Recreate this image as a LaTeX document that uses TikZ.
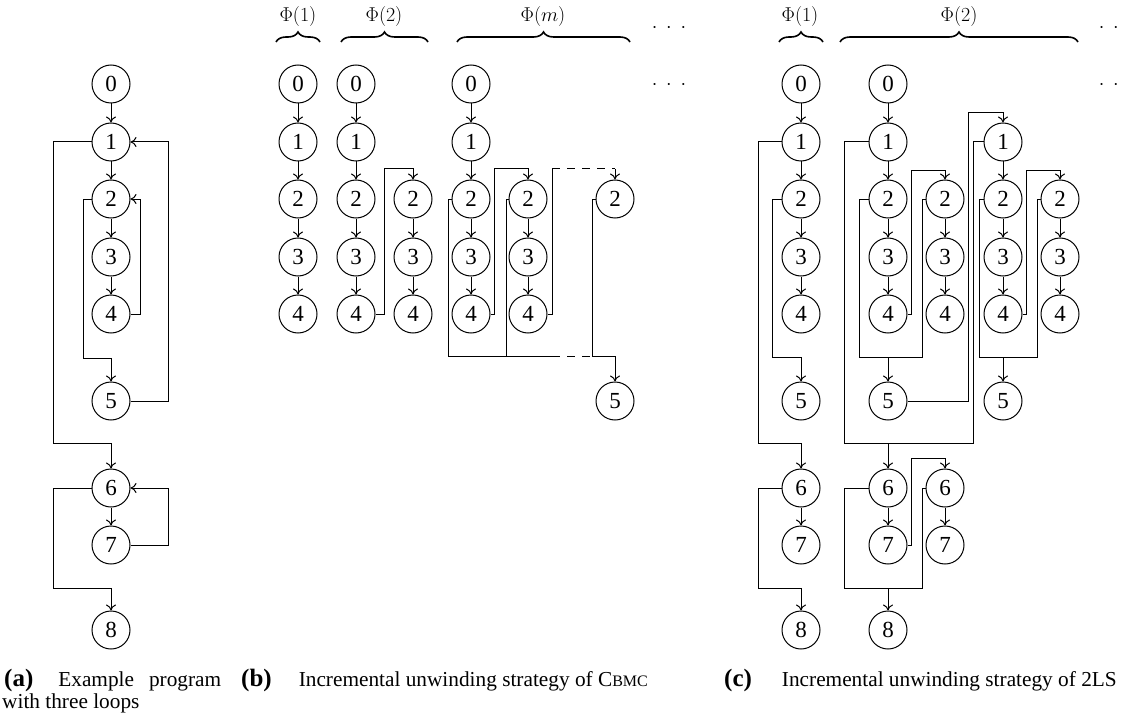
\RequirePackage{fix-cm}
\documentclass[tikz,border=0pt]{standalone}
\usepackage{fontspec}
\newfontfamily\tms{Liberation Serif}
\usetikzlibrary{arrows.meta,decorations.pathreplacing}
\begin{document}
\begin{tikzpicture}[x=1pt,y=-1pt,
  st/.style={circle,draw,line width=1pt,minimum size=38pt,inner sep=0pt,font=\tms\fontsize{23}{23}\selectfont},
  ed/.style={line width=1pt,-{To[length=6pt,width=10pt]}},
  ln/.style={line width=1pt},
  dsh/.style={line width=1pt,dash pattern=on 8pt off 7pt,dash phase=8pt},
  brc/.style={decorate,decoration={brace,amplitude=10pt},line width=1.6pt},
  phitxt/.style={font=\fontsize{20}{20}\selectfont,inner sep=0pt},
  dotsty/.style={font=\fontsize{20}{20}\selectfont,anchor=base,inner sep=0pt},
  captxt/.style={font=\tms\fontsize{21.3}{25}\selectfont,anchor=base west,inner sep=0pt}]
\useasboundingbox (0,0) rectangle (1126,714);
\clip (0,0) rectangle (1126,714);
\newcommand\lbl[1]{{\fontsize{25}{25}\selectfont\bfseries #1}}
% ---------- (a)
\foreach \i/\yy in {0/84,1/142,2/199,3/257,4/314,5/401,6/488,7/545,8/630}
  \node[st] (a\i) at (111,\yy) {\i};
\foreach \i/\j in {0/1,1/2,2/3,3/4,6/7} \draw[ed] (a\i) -- (a\j);
\draw[ed] (a1.west) -| (53,443) -| (a6);
\draw[ed] (a5.east) -| (168,142) -- (a1.east);
\draw[ed] (a2.west) -| (83,358) -| (a5);
\draw[ed] (a4.east) -| (140,199) -- (a2.east);
\draw[ed] (a6.west) -| (53,588) -| (a8);
\draw[ed] (a7.east) -| (168,488) -- (a6.east);
% ---------- (b)
\foreach \i/\yy in {0/84,1/142,2/199,3/257,4/314} {
  \node[st] (p\i) at (298,\yy) {\i};
  \node[st] (q\i) at (356,\yy) {\i};
  \node[st] (m\i) at (471,\yy) {\i};}
\foreach \i/\yy in {2/199,3/257,4/314} {
  \node[st] (qb\i) at (413,\yy) {\i};
  \node[st] (mb\i) at (528,\yy) {\i};}
\node[st] (mc2) at (615,199) {2};
\node[st] (m5) at (615,401) {5};
\foreach \i/\j in {0/1,1/2,2/3,3/4} {
  \draw[ed] (p\i) -- (p\j);
  \draw[ed] (q\i) -- (q\j);
  \draw[ed] (m\i) -- (m\j);}
\foreach \i/\j in {2/3,3/4} {
  \draw[ed] (qb\i) -- (qb\j);
  \draw[ed] (mb\i) -- (mb\j);}
\draw[ed] (q4.east) -| (384,169) -| (qb2);
\draw[ed] (m4.east) -| (494,169) -| (mb2);
\draw[ln] (mb4.east) -| (552,169) -- (560,169);
\draw[dsh] (560,169) -- (615,169);
\draw[ed] (615,169) -- (mc2);
\draw[ln] (m2.west) -| (448,356) -- (560,356);
\draw[ln] (mb2.west) -| (506,356);
\draw[dsh] (560,356) -- (592,356);
\draw[ln] (mc2.west) -| (592,356);
\draw[ed] (592,356) -| (m5);
% braces (b)
\draw[brc] (276,42) -- (320,42);
\draw[brc] (341,42) -- (428,42);
\draw[brc] (457,42) -- (630,42);
\node[phitxt] (f1) at (298,17) {$\Phi(1)$};
\node[phitxt] (f2) at (384,17) {$\Phi(2)$};
\node[phitxt] (fm) at (543,17) {$\Phi(m)$};
\node[dotsty] (d1) at (669,33) {$\cdotp\;\cdotp\;\cdotp$};
\node[dotsty] (d2) at (669,90) {$\cdotp\;\cdotp\;\cdotp$};
% ---------- (c)
\foreach \i/\yy in {0/84,1/142,2/199,3/257,4/314,5/401,6/488,7/545,8/630} {
  \node[st] (u\i) at (801,\yy) {\i};
  \node[st] (v\i) at (888,\yy) {\i};}
\foreach \i/\yy in {2/199,3/257,4/314,6/488,7/545}
  \node[st] (w\i) at (945,\yy) {\i};
\foreach \i/\yy in {1/142,2/199,3/257,4/314,5/401}
  \node[st] (k\i) at (1003,\yy) {\i};
\foreach \i/\yy in {2/199,3/257,4/314}
  \node[st] (z\i) at (1060,\yy) {\i};
\foreach \i/\j in {0/1,1/2,2/3,3/4,6/7} {
  \draw[ed] (u\i) -- (u\j);
  \draw[ed] (v\i) -- (v\j);}
\foreach \i/\j in {2/3,3/4} {
  \draw[ed] (w\i) -- (w\j);
  \draw[ed] (z\i) -- (z\j);}
\draw[ed] (w6) -- (w7);
\foreach \i/\j in {1/2,2/3,3/4} \draw[ed] (k\i) -- (k\j);
\draw[ed] (u1.west) -| (758,443) -| (u6);
\draw[ed] (u2.west) -| (772,357) -| (u5);
\draw[ed] (u6.west) -| (758,588) -| (u8);
\draw[ed] (v1.west) -| (844,443) -| (v6);
\draw[ln] (k1.west) -| (973,443) -- (888,443);
\draw[ed] (v2.west) -| (859,357) -| (v5);
\draw[ln] (w2.west) -| (922,357) -- (888,357);
\draw[ed] (v4.east) -| (911,171) -| (w2);
\draw[ed] (v5.east) -| (968,113) -| (k1);
\draw[ed] (k2.west) -| (979,357) -| (k5);
\draw[ln] (z2.west) -| (1037,357) -- (1003,357);
\draw[ed] (k4.east) -| (1026,171) -| (z2);
\draw[ed] (v6.west) -| (844,588) -| (v8);
\draw[ln] (w6.west) -| (922,588) -- (888,588);
\draw[ed] (v7.east) -| (911,458) -| (w6);
% braces (c)
\draw[brc] (779,42) -- (823,42);
\draw[brc] (840,42) -- (1078,42);
\node[phitxt] (g1) at (800,17) {$\Phi(1)$};
\node[phitxt] (g2) at (959,17) {$\Phi(2)$};
\node[dotsty] (d3) at (1116,33) {$\cdotp\;\cdotp\;\cdotp$};
\node[dotsty] (d4) at (1116,90) {$\cdotp\;\cdotp\;\cdotp$};
% ---------- captions
\node[captxt] (ca1) at (4,686) {\lbl{(a)}\hspace{25pt}Example\hspace{15pt}program};
\node[captxt] (ca2) at (2,708) {with three loops};
\node[captxt] (cb) at (241,686) {\lbl{(b)}\hspace{27pt}Incremental unwinding strategy of C{\fontsize{16}{16}\selectfont BMC}};
\node[captxt] (cc) at (724,686) {\lbl{(c)}\hspace{30pt}Incremental unwinding strategy of 2LS};
\end{tikzpicture}
\end{document}
